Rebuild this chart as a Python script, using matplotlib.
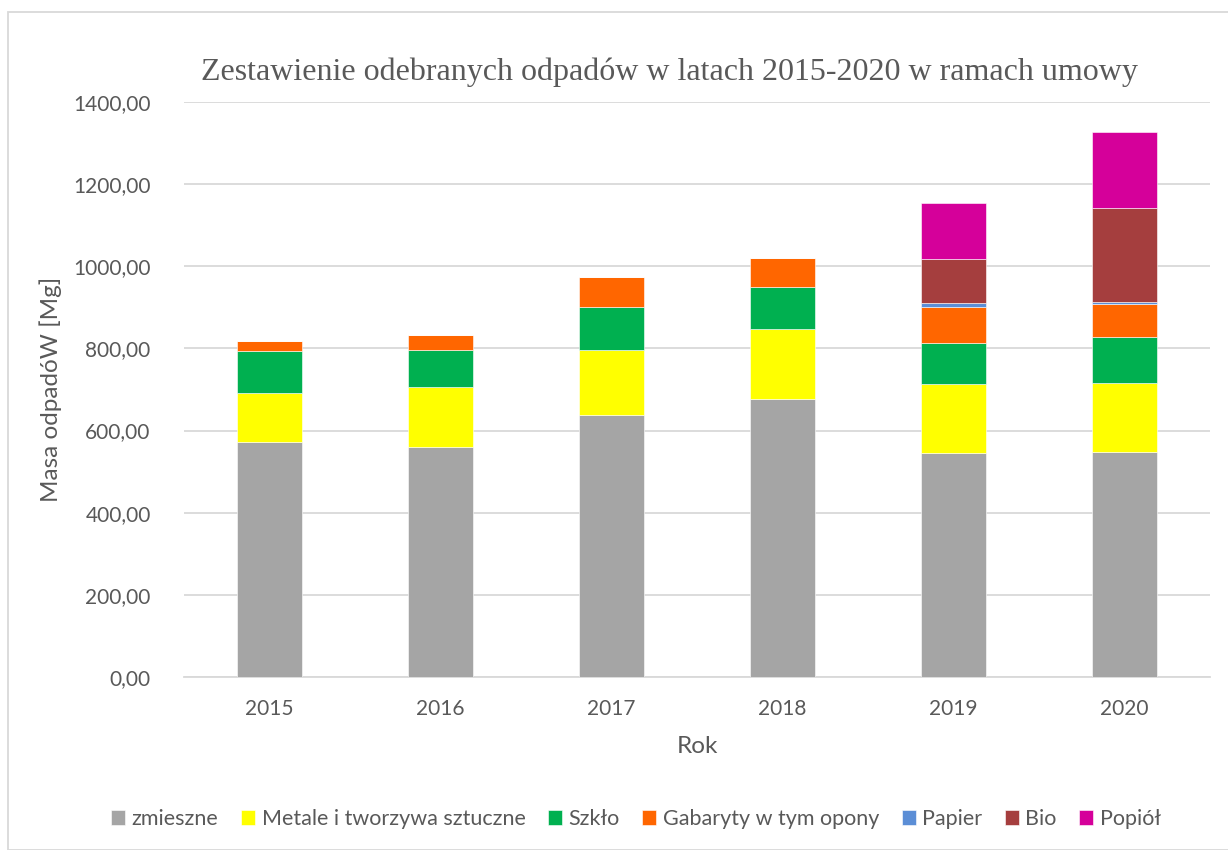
import matplotlib
matplotlib.use("Agg")
import matplotlib.pyplot as plt
from matplotlib.patches import Rectangle
import numpy as np

years = ["2015", "2016", "2017", "2018", "2019", "2020"]
zmieszne = [573, 561, 639, 677, 545, 548]
metale = [118, 145, 157, 170, 168, 167]
szklo = [102, 90, 104, 103, 101, 112]
gabaryty = [25, 36, 75, 71, 88, 80]
papier = [0, 0, 0, 0, 8, 7]
bio = [0, 0, 0, 0, 107, 227]
popiol = [0, 0, 0, 0, 138, 186]

series_names = ["zmieszne", "Metale i tworzywa sztuczne", "Szkło",
                "Gabaryty w tym opony", "Papier", "Bio", "Popiół"]
series_vals = [zmieszne, metale, szklo, gabaryty, papier, bio, popiol]
colors = ["#A5A5A5", "#FFFF00", "#00B050", "#FF6600", "#5B8ED6", "#A53E3E", "#D5009A"]

plt.rcParams['font.family'] = ['Lato', 'DejaVu Sans']
txt = "#595959"

fig = plt.figure(figsize=(12.28, 8.5), dpi=100)
ax = fig.add_axes([184/1228, 1-677/850, (1210-184)/1228, (677-102)/850])

x = np.arange(len(years))
bottom = np.zeros(len(years))
for name, vals, c in zip(series_names, series_vals, colors):
    v = np.array(vals, dtype=float)
    ax.bar(x, v, 0.38, bottom=bottom, color=c, label=name, zorder=3,
           edgecolor="white", linewidth=0.4)
    bottom += v

ax.set_xlim(-0.5, 5.5)
ax.set_ylim(0, 1400)
ax.set_yticks(np.arange(0, 1401, 200))
ax.set_yticklabels([f"{t},00" for t in range(0, 1401, 200)])
ax.set_xticks(x)
ax.set_xticklabels(years)
ax.yaxis.grid(True, color="#D9D9D9", linewidth=1.3, zorder=0)
ax.set_axisbelow(True)
for s in ["top", "right", "left"]:
    ax.spines[s].set_visible(False)
ax.spines["bottom"].set_color("#D9D9D9")
ax.spines["bottom"].set_linewidth(1.3)
ax.tick_params(axis="both", length=0, labelsize=15, colors=txt)
ax.tick_params(axis="y", pad=24)
ax.tick_params(axis="x", pad=16)

ax.set_ylabel("Masa odpadóW [Mg]", fontsize=17.5, color=txt, labelpad=8)
ax.set_xlabel("Rok", fontsize=17.5, color=txt, labelpad=12)

fig.text(0.545, 1-72/850, "Zestawienie odebranych odpadów w latach 2015-2020 w ramach umowy",
         ha="center", va="center", fontsize=23, color=txt, family="Liberation Serif")

leg = fig.legend(loc="center", bbox_to_anchor=(0.518, 1-819/850), ncol=7, frameon=False,
                 fontsize=15.5, labelcolor=txt, handlelength=0.65, handleheight=0.65,
                 handletextpad=0.3, columnspacing=1.05)

fig.patches.append(Rectangle((8/1228, 0), 1.0, 1-12/850, transform=fig.transFigure,
                             fill=False, edgecolor="#D9D9D9", linewidth=1.3))

fig.savefig("out.png", dpi=100, facecolor="white")
